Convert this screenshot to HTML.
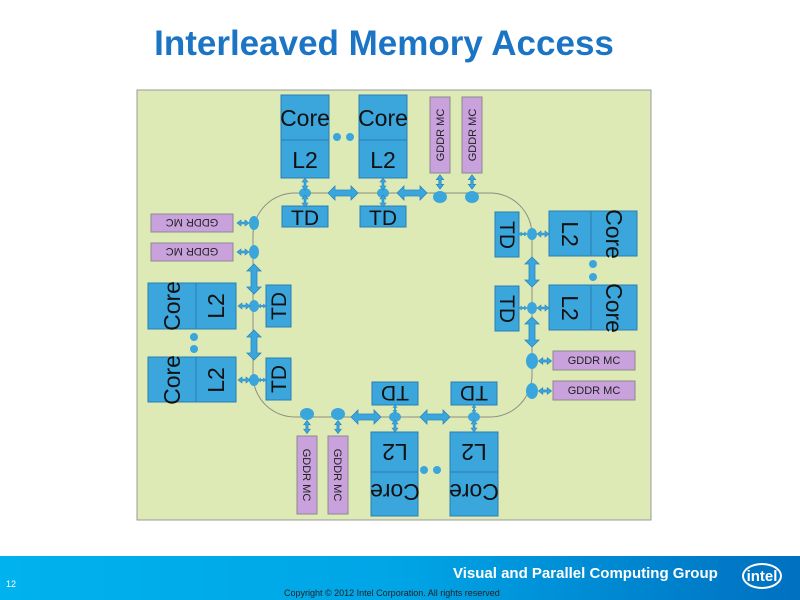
<!DOCTYPE html>
<html><head><meta charset="utf-8"><style>
body{margin:0;width:800px;height:600px;background:#fff;overflow:hidden;position:relative;font-family:"Liberation Sans",sans-serif}
.title{position:absolute;left:0;width:768px;top:24px;text-align:center;font-weight:bold;font-size:35px;color:#1b75c4}
.foot{position:absolute;left:0;top:556px;width:800px;height:44px;background:linear-gradient(90deg,#00b2ee 0%,#00a5e6 50%,#0070c0 100%)}
</style></head><body>
<div class="title">Interleaved Memory Access</div>
<svg width="800" height="600" style="position:absolute;left:0;top:0">
<defs>
<polygon id="ba" points="-15,0 -8,-7 -8,-3 8,-3 8,-7 15,0 8,7 8,3 -8,3 -8,7" fill="#3aa6dc" stroke="#2b86bf" stroke-width="0.8"/>
<polygon id="sa" points="-6,0 -2,-3 -2,-1 2,-1 2,-3 6,0 2,3 2,1 -2,1 -2,3" fill="#3aa6dc" stroke="#2b86bf" stroke-width="0.6"/>
</defs>
<rect x="137" y="90" width="514" height="430" fill="#deeab6" stroke="#9a9a9a"/>
<rect x="253" y="193" width="279" height="224" rx="42" fill="none" stroke="#8c8c80" stroke-width="1"/>
<g fill="#3aa6dc" stroke="#2b7fb2" stroke-width="1">
<rect x="281" y="95" width="48" height="83"/><line x1="281" y1="140" x2="329" y2="140"/>
<rect x="359" y="95" width="48" height="83"/><line x1="359" y1="140" x2="407" y2="140"/>
<rect x="282" y="206" width="46" height="21"/><rect x="360" y="206" width="46" height="21"/>
<rect x="148" y="283" width="88" height="46"/><line x1="196" y1="283" x2="196" y2="329"/>
<rect x="148" y="357" width="88" height="45"/><line x1="196" y1="357" x2="196" y2="402"/>
<rect x="266" y="285" width="25" height="42"/><rect x="266" y="358" width="25" height="42"/>
<rect x="549" y="211" width="88" height="45"/><line x1="591" y1="211" x2="591" y2="256"/>
<rect x="549" y="285" width="88" height="45"/><line x1="591" y1="285" x2="591" y2="330"/>
<rect x="495" y="212" width="24" height="45"/><rect x="495" y="286" width="24" height="45"/>
<rect x="371" y="432" width="47" height="84"/><line x1="371" y1="472" x2="418" y2="472"/>
<rect x="450" y="432" width="48" height="84"/><line x1="450" y1="472" x2="498" y2="472"/>
<rect x="372" y="382" width="46" height="23"/><rect x="451" y="382" width="46" height="23"/>
</g>
<g fill="#c9a2dd" stroke="#8a8a8a" stroke-width="1">
<rect x="430" y="97" width="20" height="76"/><rect x="462" y="97" width="20" height="76"/>
<rect x="151" y="214" width="82" height="18"/><rect x="151" y="243" width="82" height="18"/>
<rect x="553" y="351" width="82" height="19"/><rect x="553" y="381" width="82" height="19"/>
<rect x="297" y="436" width="20" height="78"/><rect x="328" y="436" width="20" height="78"/>
</g>
<g fill="#3aa6dc">
<circle cx="337" cy="137" r="4"/><circle cx="350" cy="137" r="4"/>
<circle cx="194" cy="337" r="4"/><circle cx="194" cy="349" r="4"/>
<circle cx="593" cy="264" r="4"/><circle cx="593" cy="277" r="4"/>
<circle cx="424" cy="470" r="4"/><circle cx="437" cy="470" r="4"/>
<ellipse cx="305" cy="193" rx="6" ry="5"/><ellipse cx="383" cy="193" rx="6" ry="5"/>
<ellipse cx="440" cy="197" rx="7" ry="6"/><ellipse cx="472" cy="197" rx="7" ry="6"/>
<ellipse cx="254" cy="223" rx="5" ry="7"/><ellipse cx="254" cy="252" rx="5" ry="7"/>
<ellipse cx="254" cy="306" rx="5" ry="6"/><ellipse cx="254" cy="380" rx="5" ry="6"/>
<ellipse cx="532" cy="234" rx="5" ry="6"/><ellipse cx="532" cy="308" rx="5" ry="6"/>
<ellipse cx="532" cy="361" rx="6" ry="8"/><ellipse cx="532" cy="391" rx="6" ry="8"/>
<ellipse cx="395" cy="417" rx="6" ry="5"/><ellipse cx="474" cy="417" rx="6" ry="5"/>
<ellipse cx="307" cy="414" rx="7" ry="6"/><ellipse cx="338" cy="414" rx="7" ry="6"/>
</g>
<use href="#ba" transform="translate(343,193)"/><use href="#ba" transform="translate(412,193)"/>
<use href="#ba" transform="translate(366,417)"/><use href="#ba" transform="translate(435,417)"/>
<use href="#ba" transform="translate(254,279) rotate(90)"/><use href="#ba" transform="translate(254,345) rotate(90)"/>
<use href="#ba" transform="translate(532,272) rotate(90)"/><use href="#ba" transform="translate(532,332) rotate(90)"/>
<use href="#sa" transform="translate(305,184) rotate(90)"/><use href="#sa" transform="translate(305,201) rotate(90)"/>
<use href="#sa" transform="translate(383,184) rotate(90)"/><use href="#sa" transform="translate(383,201) rotate(90)"/>
<use href="#sa" transform="translate(440,182) rotate(90) scale(1.2)"/><use href="#sa" transform="translate(472,182) rotate(90) scale(1.2)"/>
<use href="#sa" transform="translate(243,223)"/><use href="#sa" transform="translate(243,252)"/>
<use href="#sa" transform="translate(244,306)"/><use href="#sa" transform="translate(262,306) scale(0.7)"/>
<use href="#sa" transform="translate(244,380)"/><use href="#sa" transform="translate(262,380) scale(0.7)"/>
<use href="#sa" transform="translate(523,234) scale(0.7)"/><use href="#sa" transform="translate(543,234)"/>
<use href="#sa" transform="translate(523,308) scale(0.7)"/><use href="#sa" transform="translate(543,308)"/>
<use href="#sa" transform="translate(545,361) scale(1.1)"/><use href="#sa" transform="translate(545,391) scale(1.1)"/>
<use href="#sa" transform="translate(395,409) rotate(90) scale(0.7)"/><use href="#sa" transform="translate(395,426) rotate(90)"/>
<use href="#sa" transform="translate(474,409) rotate(90) scale(0.7)"/><use href="#sa" transform="translate(474,426) rotate(90)"/>
<use href="#sa" transform="translate(307,427) rotate(90) scale(1.1)"/><use href="#sa" transform="translate(338,427) rotate(90) scale(1.1)"/>
<g font-family="Liberation Sans, sans-serif" font-size="23" fill="#111" text-anchor="middle">
<text x="305" y="126">Core</text><text x="305" y="168">L2</text>
<text x="383" y="126">Core</text><text x="383" y="168">L2</text>
<text x="305" y="225" font-size="21">TD</text><text x="383" y="225" font-size="21">TD</text>
<text transform="translate(180,306) rotate(-90)">Core</text><text transform="translate(224,306) rotate(-90)">L2</text>
<text transform="translate(180,380) rotate(-90)">Core</text><text transform="translate(224,380) rotate(-90)">L2</text>
<text transform="translate(286,306) rotate(-90)" font-size="21">TD</text><text transform="translate(286,379) rotate(-90)" font-size="21">TD</text>
<text transform="translate(606,234) rotate(90)">Core</text><text transform="translate(562,234) rotate(90)">L2</text>
<text transform="translate(606,308) rotate(90)">Core</text><text transform="translate(562,308) rotate(90)">L2</text>
<text transform="translate(500,235) rotate(90)" font-size="21">TD</text><text transform="translate(500,309) rotate(90)" font-size="21">TD</text>
<text transform="translate(395,484) rotate(180)">Core</text><text transform="translate(395,444) rotate(180)">L2</text>
<text transform="translate(474,484) rotate(180)">Core</text><text transform="translate(474,444) rotate(180)">L2</text>
<text transform="translate(395,386) rotate(180)" font-size="21">TD</text><text transform="translate(474,386) rotate(180)" font-size="21">TD</text>
</g>
<g font-family="Liberation Sans, sans-serif" font-size="11" fill="#222" text-anchor="middle">
<text transform="translate(444,135) rotate(-90)">GDDR MC</text><text transform="translate(476,135) rotate(-90)">GDDR MC</text>
<text transform="translate(192,219) rotate(180)">GDDR MC</text><text transform="translate(192,248) rotate(180)">GDDR MC</text>
<text x="594" y="364">GDDR MC</text><text x="594" y="394">GDDR MC</text>
<text transform="translate(303,475) rotate(90)">GDDR MC</text><text transform="translate(334,475) rotate(90)">GDDR MC</text>
</g>
</svg>
<div class="foot">
<div style="position:absolute;left:453px;top:9px;color:#fff;font-weight:bold;font-size:15px">Visual and Parallel Computing Group</div>
<div style="position:absolute;left:6px;top:23px;color:#fff;font-size:9px">12</div>
<div style="position:absolute;left:284px;top:32px;color:#222;font-size:9px">Copyright © 2012 Intel Corporation. All rights reserved</div>
<div style="position:absolute;left:742px;top:7px;width:40px;height:26px;border:2px solid #fff;border-radius:50%;color:#fff;font-weight:bold;font-size:15px;text-align:center;line-height:23px;box-sizing:border-box">intel</div>
</div>
</body></html>
